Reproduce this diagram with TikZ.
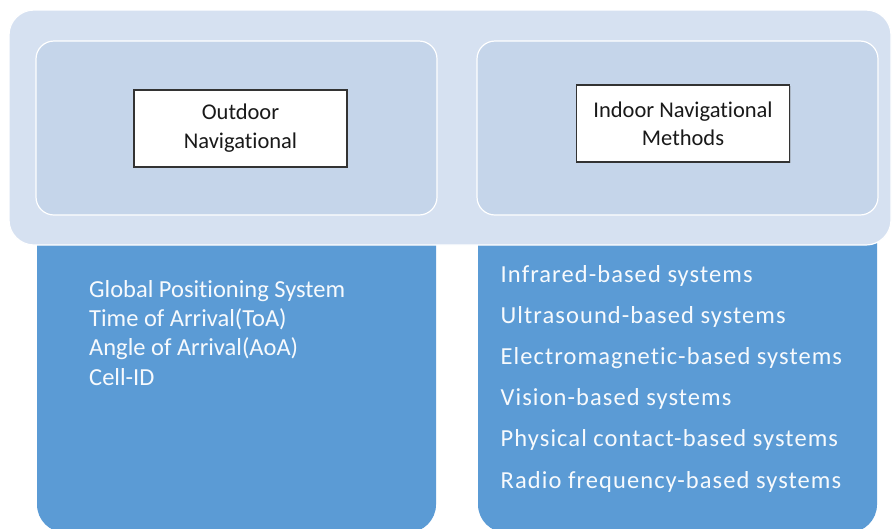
\documentclass[tikz,border=0pt]{standalone}
\usepackage{fontspec}
\setmainfont{Carlito}[Ligatures=NoCommon]
\usetikzlibrary{positioning, shadows}

\definecolor{bandblue}{HTML}{D6E1F1}
\definecolor{panelblue}{HTML}{C5D5EA}
\definecolor{listblue}{HTML}{5B9BD5}

\begin{document}
\begin{tikzpicture}[x=1pt, y=-1pt,
		band/.style={rectangle, rounded corners=25pt, fill=bandblue, draw=white, line width=1.2pt, minimum width=882pt, minimum height=235pt, inner sep=0pt},
		panel/.style={rectangle, rounded corners=18pt, fill=panelblue, draw=white, line width=1.2pt, minimum width=401pt, minimum height=174pt, inner sep=0pt},
		listbox/.style={rectangle, rounded corners=28pt, fill=listblue, minimum width=399pt, minimum height=317pt, inner sep=0pt},
		title/.style={rectangle, fill=white, draw=black!80, line width=1.1pt, minimum width=213pt, minimum height=77pt, align=center, font=\fontsize{22.5}{29}\selectfont, text=black!90, drop shadow={shadow xshift=1pt, shadow yshift=-1pt, opacity=0.35}},
		item/.style={anchor=base west, inner sep=0pt, text=white!95!listblue, font=\fontsize{24.5}{30}\selectfont},
		wideitem/.style={item, font=\fontsize{24.5}{30}\selectfont\addfontfeatures{LetterSpace=4.4}}
	]
	\path[use as bounding box, clip] (0,0) rectangle (893,528);
	% lower boxes with the lists
	\node[listbox] (outlist) at (236.5,374) {};
	\node[listbox] (inlist) at (677.5,374) {};
	% upper band and its two panels
	\node[band] (band) at (450,127.5) {};
	\node[panel] (outpanel) at (236.5,128) {};
	\node[panel] (inpanel) at (677.5,128) {};
	\node[title] (outtitle) at (240.5,128.5) {Outdoor\\Navigational};
	\node[title] (intitle) at (683,123.5) {Indoor Navigational\\[-1pt]Methods};
	
	% outdoor methods
	\node[item] (gps) at (89,297) {Global Positioning System};
	\node[item] (toa) at ([yshift=-29.4pt]gps.base west) {Time of Arrival(ToA)};
	\node[item] (aoa) at ([yshift=-29.4pt]toa.base west) {Angle of Arrival(AoA)};
	\node[item] (cellid) at ([yshift=-29.4pt]aoa.base west) {Cell-ID};
	
	% indoor methods
	\node[wideitem] (infra) at (500.5,282) {Infrared-based systems};
	\node[wideitem] (ultra) at ([yshift=-41.2pt]infra.base west) {Ultrasound-based systems};
	\node[wideitem] (electro) at ([yshift=-41.2pt]ultra.base west) {Electromagnetic-based systems};
	\node[wideitem] (vision) at ([yshift=-41.2pt]electro.base west) {Vision-based systems};
	\node[wideitem] (contact) at ([yshift=-41.2pt]vision.base west) {Physical contact-based systems};
	\node[wideitem] (radio) at ([yshift=-41.2pt]contact.base west) {Radio frequency-based systems};
\end{tikzpicture}
\end{document}
